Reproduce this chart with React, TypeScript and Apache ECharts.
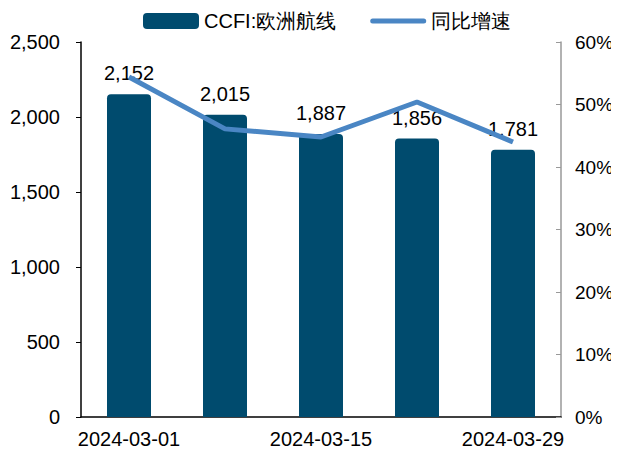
import React, { useEffect, useRef } from "react";
import * as echarts from "echarts";

const categories = ["2024-03-01", "2024-03-08", "2024-03-15", "2024-03-22", "2024-03-29"];
const ccfiValues = [2152, 2015, 1887, 1856, 1781];
const yoyValues = [54.4, 46.1, 44.8, 50.4, 44.0];

const FONT = "Liberation Sans, Arial, sans-serif";
const LINE_ICON = "path://M2.5,0 L53.5,0 A2.5,2.5 0 0 1 53.5,5 L2.5,5 A2.5,2.5 0 0 1 2.5,0 Z";

export default function App() {
  const ref = useRef<HTMLDivElement>(null);
  useEffect(() => {
    if (!ref.current) return;
    const chart = echarts.init(ref.current, null, { renderer: "svg" });
    chart.setOption({
      animation: false,
      textStyle: { fontFamily: FONT },
      legend: {
        top: 6,
        left: 138,
        itemGap: 34,
        itemWidth: 56,
        itemHeight: 16,
        symbolKeepAspect: true,
        textStyle: { fontSize: 20, color: "#000", fontFamily: FONT },
        data: [
          { name: "CCFI:欧洲航线", icon: "roundRect" },
          { name: "同比增速", icon: LINE_ICON, itemStyle: { color: "#4A86C4" } },
        ],
      },
      grid: { left: 81, right: 58, top: 42, bottom: 37, containLabel: false },
      xAxis: {
        type: "category",
        data: categories,
        axisLine: { lineStyle: { color: "#000", width: 1.5 } },
        axisTick: { inside: true, length: 5, lineStyle: { color: "#000" } },
        axisLabel: { interval: 1, fontSize: 20, color: "#000", margin: 12, fontFamily: FONT },
      },
      yAxis: [
        {
          type: "value",
          min: 0,
          max: 2500,
          interval: 500,
          axisLine: { show: true, lineStyle: { color: "#000", width: 1.5 } },
          axisTick: { show: true, length: 5, lineStyle: { color: "#000" } },
          splitLine: { show: false },
          axisLabel: {
            fontSize: 20,
            color: "#000",
            margin: 21,
            fontFamily: FONT,
            formatter: (v: number) => v.toLocaleString("en-US"),
          },
        },
        {
          type: "value",
          min: 0,
          max: 60,
          interval: 10,
          position: "right",
          axisLine: { show: true, lineStyle: { color: "#999", width: 1.5 } },
          axisTick: { show: true, inside: true, length: 5, lineStyle: { color: "#999" } },
          splitLine: { show: false },
          axisLabel: { fontSize: 19, color: "#000", margin: 14, fontFamily: FONT, formatter: "{value}%" },
        },
      ],
      series: [
        {
          name: "CCFI:欧洲航线",
          type: "bar",
          data: ccfiValues,
          barWidth: 44,
          itemStyle: { color: "#004B6E", borderRadius: [4, 4, 0, 0] },
          label: {
            show: true,
            position: "top",
            distance: 11,
            fontSize: 20,
            color: "#000",
            fontFamily: FONT,
            formatter: (p: any) => Number(p.value).toLocaleString("en-US"),
          },
        },
        {
          name: "同比增速",
          type: "line",
          yAxisIndex: 1,
          data: yoyValues,
          symbol: "none",
          lineStyle: { color: "#4A86C4", width: 5 },
          itemStyle: { color: "#4A86C4" },
          z: 3,
        },
      ],
    });
    return () => chart.dispose();
  }, []);
  return <div ref={ref} style={{ width: 619, height: 454, margin: -8 }} />;
}
